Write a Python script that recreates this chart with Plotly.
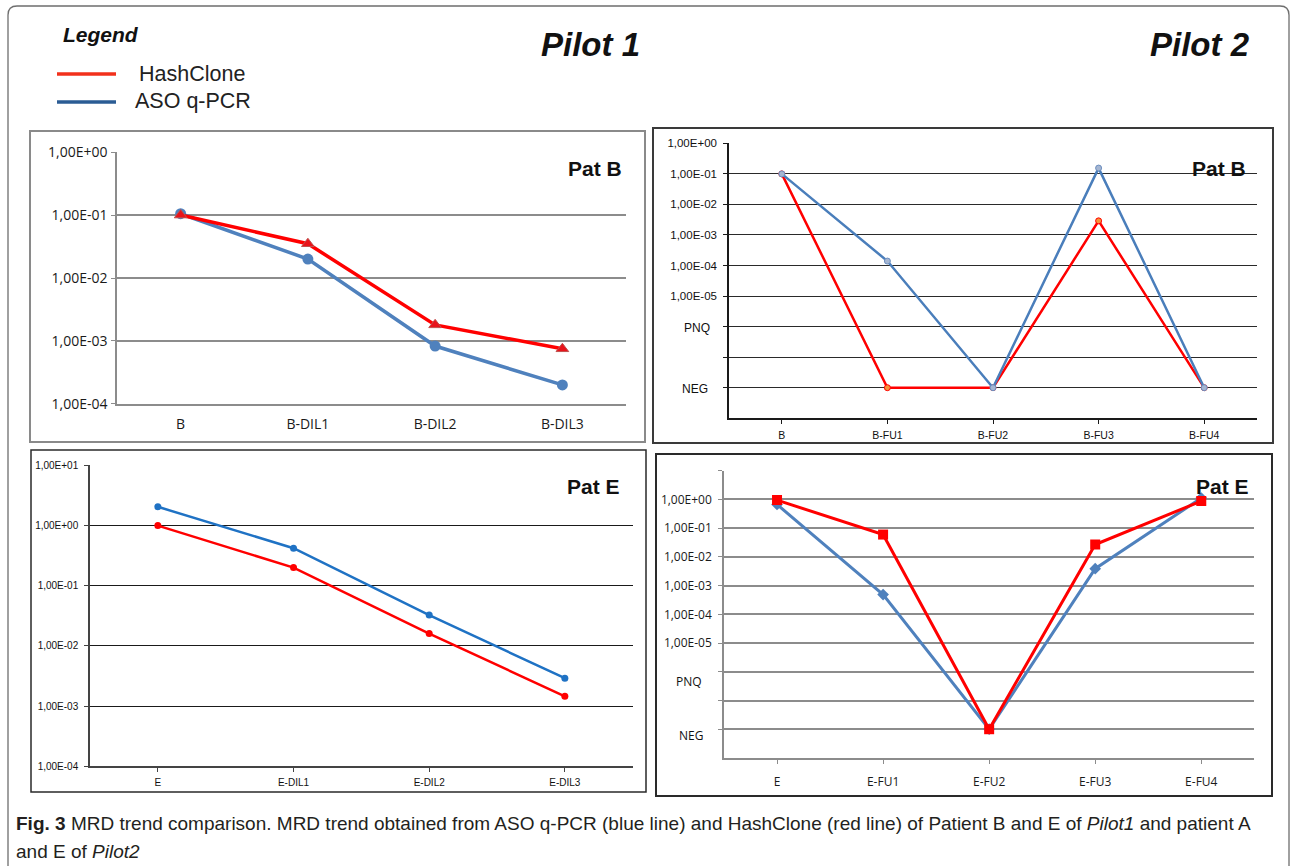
import plotly.graph_objects as go

W, H = 1292, 866


def fx(v):
    return v / W


def fy(v):
    return 1 - v / H


# ---- data -------------------------------------------------------------
NEG = 1e-8   # plotting level for negative samples
PNQ = 1e-6   # positive, not quantifiable

# Pilot 1 - patient B dilution series
p1b_cats = ["B", "B-DIL1", "B-DIL2", "B-DIL3"]
p1b_hash = [0.1, 0.035, 0.0018, 0.00075]
p1b_aso = [0.105, 0.02, 0.00083, 0.0002]

# Pilot 1 - patient E dilution series
p1e_cats = ["E", "E-DIL1", "E-DIL2", "E-DIL3"]
p1e_hash = [1.0, 0.2, 0.016, 0.00145]
p1e_aso = [2.05, 0.42, 0.0325, 0.0029]

# Pilot 2 - patient B follow-up
p2b_cats = ["B", "B-FU1", "B-FU2", "B-FU3", "B-FU4"]
p2b_hash = [0.1, NEG, NEG, 0.0029, NEG]
p2b_aso = [0.1, 0.00014, NEG, 0.155, NEG]

# Pilot 2 - patient E follow-up
p2e_cats = ["E", "E-FU1", "E-FU2", "E-FU3", "E-FU4"]
p2e_hash = [0.95, 0.06, NEG, 0.027, 0.88]
p2e_aso = [0.67, 0.00049, NEG, 0.0039, 1.12]

# y tick labels (Excel-style scientific notation)
dec_vals = [10.0, 1.0, 0.1, 0.01, 0.001, 1e-4, 1e-5, 1e-6, 1e-7, 1e-8]
dec_text = ["1,00E+01", "1,00E+00", "1,00E-01", "1,00E-02", "1,00E-03",
            "1,00E-04", "1,00E-05", "", "", ""]

RED = "#FF0000"
BLUE = "#4F81BD"
BLUE2 = "#1F72C4"

fig = go.Figure()

# Pilot 1 / Pat B
fig.add_trace(go.Scatter(x=p1b_cats, y=p1b_aso, mode="lines+markers", xaxis="x", yaxis="y",
                         line=dict(color=BLUE, width=3.5),
                         marker=dict(symbol="circle", size=11, color=BLUE), showlegend=False))
fig.add_trace(go.Scatter(x=p1b_cats, y=p1b_hash, mode="lines+markers", xaxis="x", yaxis="y",
                         line=dict(color=RED, width=3.5),
                         marker=dict(symbol="triangle-up", size=11, color="#E8141B",
                                     line=dict(color="#C0504D", width=1)), showlegend=False))

# Pilot 2 / Pat B
fig.add_trace(go.Scatter(x=p2b_cats, y=p2b_hash, mode="lines+markers", xaxis="x2", yaxis="y2",
                         line=dict(color=RED, width=2.5),
                         marker=dict(symbol="circle", size=6, color="#F7923A",
                                     line=dict(color=RED, width=1)), showlegend=False))
fig.add_trace(go.Scatter(x=p2b_cats, y=p2b_aso, mode="lines+markers", xaxis="x2", yaxis="y2",
                         line=dict(color="#4A7EBB", width=2.5),
                         marker=dict(symbol="circle", size=6, color="#A5B6D2",
                                     line=dict(color="#6C8EBF", width=1)), showlegend=False))

# Pilot 1 / Pat E
fig.add_trace(go.Scatter(x=p1e_cats, y=p1e_aso, mode="lines+markers", xaxis="x3", yaxis="y3",
                         line=dict(color=BLUE2, width=2.5),
                         marker=dict(symbol="circle", size=7, color=BLUE2), showlegend=False))
fig.add_trace(go.Scatter(x=p1e_cats, y=p1e_hash, mode="lines+markers", xaxis="x3", yaxis="y3",
                         line=dict(color=RED, width=2.5),
                         marker=dict(symbol="circle", size=7, color=RED), showlegend=False))

# Pilot 2 / Pat E
fig.add_trace(go.Scatter(x=p2e_cats, y=p2e_aso, mode="lines+markers", xaxis="x4", yaxis="y4",
                         line=dict(color=BLUE, width=3),
                         marker=dict(symbol="diamond", size=9, color=BLUE), showlegend=False))
fig.add_trace(go.Scatter(x=p2e_cats, y=p2e_hash, mode="lines+markers", xaxis="x4", yaxis="y4",
                         line=dict(color=RED, width=3),
                         marker=dict(symbol="square", size=10, color=RED), showlegend=False))

GRID_GRAY = "#8C8C8C"


def xax(dom, anchor, n, font, lcolor, ticks, standoff):
    return dict(domain=[fx(dom[0]), fx(dom[1])], anchor=anchor, type="category",
                range=[-0.5, n - 0.5], showgrid=False, zeroline=False,
                showline=True, linecolor=lcolor, linewidth=1.5,
                ticks=ticks, ticklen=4, tickcolor=lcolor, tickwidth=1,
                tickfont=font, ticklabelstandoff=standoff, fixedrange=True)


def yax(dom, anchor, rng, vals, text, font, gcolor, lcolor, gw, standoff):
    return dict(domain=[fy(dom[1]), fy(dom[0])], anchor=anchor, type="log",
                range=[rng[0] - 0.002, rng[1] + 0.002], tickvals=vals, ticktext=text,
                showgrid=True, gridcolor=gcolor, gridwidth=gw, zeroline=False,
                showline=True, linecolor=lcolor, linewidth=1.5,
                ticks="outside", ticklen=4, tickcolor=lcolor, tickwidth=1,
                tickfont=font, ticklabelstandoff=standoff, fixedrange=True)


f_calib = dict(family="Open Sans", size=14, color="#1a1a1a")
f_arial11 = dict(family="Liberation Sans", size=11.5, color="#111111")
f_arial10 = dict(family="Liberation Sans", size=10, color="#111111")
f_arial105 = dict(family="Liberation Sans", size=10.5, color="#111111")
f_calib12 = dict(family="Open Sans", size=12, color="#1a1a1a")

p4_text = [""] + dec_text[1:]

fig.update_layout(
    width=W, height=H, margin=dict(l=0, r=0, t=0, b=0, autoexpand=False),
    paper_bgcolor="white", plot_bgcolor="white",
    xaxis=xax((117, 626), "y", 4, f_calib, GRID_GRAY, "", 6),
    yaxis=yax((152, 404), "x", (-4, 0), dec_vals[1:6], dec_text[1:6], f_calib,
              GRID_GRAY, GRID_GRAY, 1.5, 1),
    xaxis2=xax((729, 1257), "y2", 5, f_arial105, "#1a1a1a", "outside", 2),
    yaxis2=yax((143.3, 418.3), "x2", (-9, 0), dec_vals[1:], dec_text[1:], f_arial11,
               "#2a2a2a", "#1a1a1a", 1.3, 4),
    xaxis3=xax((90, 632.7), "y3", 4, f_arial10, "#444444", "outside", 2),
    yaxis3=yax((465.3, 766.3), "x3", (-4, 1), dec_vals[:6], dec_text[:6], f_arial10,
               "#1a1a1a", "#444444", 1, 4),
    xaxis4=xax((724, 1254.3), "y4", 5, f_calib12, GRID_GRAY, "outside", 8),
    yaxis4=yax((470.7, 758), "x4", (-9, 1), dec_vals, p4_text, f_calib12,
               GRID_GRAY, GRID_GRAY, 1.5, 4),
)

shapes = []
ann = []


def rect(x0, y0, x1, y1, color, width):
    shapes.append(dict(type="rect", xref="paper", yref="paper",
                       x0=fx(x0), x1=fx(x1), y0=fy(y1), y1=fy(y0),
                       line=dict(color=color, width=width), fillcolor="rgba(0,0,0,0)",
                       layer="below"))


# outer rounded frame
r = 9
path = (f"M {fx(8)},{fy(866)} L {fx(8)},{fy(6 + r)} Q {fx(8)},{fy(6)} {fx(8 + r)},{fy(6)} "
        f"L {fx(1289 - r)},{fy(6)} Q {fx(1289)},{fy(6)} {fx(1289)},{fy(6 + r)} L {fx(1289)},{fy(866)}")
shapes.append(dict(type="path", xref="paper", yref="paper", path=path,
                   line=dict(color="#6E6E6E", width=1.3)))

# panel frames
rect(30, 131, 645, 442, "#8A8A8A", 2)
rect(653, 128, 1273, 443, "#3A3A3A", 2)
rect(31, 450, 646, 792, "#2A2A2A", 1.5)
rect(656, 454, 1272, 796, "#2A2A2A", 2)

# legend swatches
shapes.append(dict(type="line", xref="paper", yref="paper", x0=fx(57), x1=fx(116),
                   y0=fy(74), y1=fy(74), line=dict(color="#F2301B", width=3.5)))
shapes.append(dict(type="line", xref="paper", yref="paper", x0=fx(57), x1=fx(116),
                   y0=fy(102), y1=fy(102), line=dict(color="#2B5C94", width=3.5)))


def text(x, y, s, size, family="Liberation Sans", xanchor="left", color="#111111"):
    ann.append(dict(x=fx(x), y=fy(y), xref="paper", yref="paper", text=s, showarrow=False,
                    xanchor=xanchor, yanchor="middle", font=dict(family=family, size=size, color=color)))


text(61, 34, "<b><i>Legend</i></b>", 21)
text(137, 74, "HashClone", 21.5, color="#222222")
text(133, 101, "ASO q-PCR", 21.5, color="#222222")
text(590.5, 45, "<b><i>Pilot 1</i></b>", 33, xanchor="center")
text(1199.5, 45, "<b><i>Pilot 2</i></b>", 33, xanchor="center")

text(624, 169, "<b>Pat B</b>", 21, xanchor="right")
text(1248, 168, "<b>Pat B</b>", 21, xanchor="right")
text(622, 486, "<b>Pat E</b>", 21, xanchor="right")
text(1251, 486, "<b>Pat E</b>", 21, xanchor="right")

# qualitative levels on the Pilot 2 axes
text(697, 327.5, "PNQ", 12, xanchor="center")
text(695, 389, "NEG", 12, xanchor="center")
text(689, 681, "PNQ", 12, family="Open Sans", xanchor="center")
text(691, 735, "NEG", 12, family="Open Sans", xanchor="center")

# caption
cap_font = "Liberation Sans"
text(14, 823, "<b>Fig. 3</b> MRD trend comparison. MRD trend obtained from ASO q-PCR (blue line) and "
     "HashClone (red line) of Patient B and E of <i>Pilot1</i> and patient A", 19,
     family=cap_font, color="#231F20")
text(14, 851, "and E of <i>Pilot2</i>", 19, family=cap_font, color="#231F20")

fig.update_layout(shapes=shapes, annotations=ann)

fig.write_html("out.html")
